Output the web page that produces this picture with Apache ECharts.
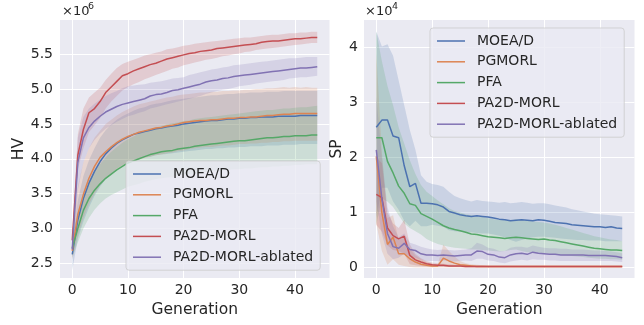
<!DOCTYPE html>
<html>
<head>
<meta charset="utf-8">
<script src="https://cdn.jsdelivr.net/npm/echarts@6/dist/echarts.min.js"></script>
<style>
  html, body { margin: 0; padding: 0; background: #ffffff; }
  #chart { width: 644px; height: 325px; }
</style>
</head>
<body>
<div id="chart"></div>
<script>
const generations = [0,1,2,3,4,5,6,7,8,9,10,11,12,13,14,15,16,17,18,19,20,21,22,23,24,25,26,27,28,29,30,31,32,33,34,35,36,37,38,39,40,41,42,43,44];
const methods = ['MOEA/D', 'PGMORL', 'PFA', 'PA2D-MORL', 'PA2D-MORL-ablated'];
const colors = ['#4C72B0', '#DD8452', '#55A868', '#C44E52', '#8172B3'];
const genTicks = [0, 10, 20, 30, 40];
const hvTicks = [2.5, 3.0, 3.5, 4.0, 4.5, 5.0, 5.5];
const spTicks = [0, 1, 2, 3, 4];

// HV (x1e6): mean and band edges per generation
const hvBlueMean = [2.63,3.12,3.43,3.65,3.82,3.96,4.07,4.15,4.22,4.27,4.31,4.35,4.37,4.39,4.41,
  4.43,4.44,4.46,4.47,4.48,4.50,4.51,4.52,4.53,4.54,4.55,4.55,4.56,4.57,4.57,
  4.58,4.58,4.59,4.59,4.60,4.60,4.60,4.61,4.61,4.61,4.61,4.62,4.62,4.62,4.62];
const hvBlueLo = [2.40,2.85,3.10,3.30,3.47,3.60,3.71,3.79,3.86,3.91,3.95,3.98,4.00,4.02,4.03,
  4.05,4.06,4.07,4.08,4.09,4.10,4.11,4.12,4.13,4.14,4.14,4.15,4.15,4.16,4.16,
  4.17,4.17,4.18,4.18,4.18,4.19,4.19,4.19,4.20,4.20,4.20,4.21,4.21,4.21,4.21];
const hvBlueHi = [2.80,3.40,3.75,3.98,4.15,4.30,4.41,4.49,4.56,4.61,4.65,4.69,4.72,4.74,4.77,
  4.79,4.80,4.82,4.84,4.85,4.86,4.87,4.88,4.89,4.90,4.91,4.91,4.92,4.93,4.93,
  4.94,4.94,4.95,4.95,4.95,4.96,4.96,4.96,4.97,4.97,4.97,4.97,4.97,4.97,4.97];

const hvOrangeMean = [2.68,3.20,3.49,3.72,3.89,4.02,4.10,4.17,4.23,4.28,4.32,4.35,4.38,4.40,4.42,
  4.44,4.45,4.47,4.48,4.50,4.52,4.53,4.54,4.55,4.55,4.56,4.56,4.57,4.58,4.58,
  4.59,4.59,4.60,4.60,4.61,4.62,4.62,4.63,4.64,4.64,4.65,4.65,4.65,4.65,4.65];
const hvOrangeLo = [2.55,2.90,3.15,3.35,3.50,3.62,3.72,3.79,3.85,3.90,3.93,3.96,3.99,4.01,4.03,
  4.05,4.06,4.08,4.09,4.11,4.12,4.14,4.15,4.16,4.17,4.17,4.18,4.19,4.19,4.20,
  4.21,4.21,4.22,4.22,4.23,4.23,4.24,4.24,4.25,4.25,4.26,4.26,4.26,4.26,4.26];
const hvOrangeHi = [2.90,3.60,3.95,4.15,4.30,4.40,4.50,4.56,4.62,4.67,4.71,4.75,4.78,4.80,4.82,
  4.84,4.86,4.88,4.89,4.91,4.92,4.93,4.94,4.95,4.95,4.96,4.96,4.97,4.97,4.98,
  4.98,4.99,4.99,5.00,5.00,5.01,5.01,5.02,5.03,5.02,5.03,5.02,5.03,5.02,5.02];

const hvGreenMean = [2.72,3.00,3.26,3.43,3.55,3.64,3.72,3.78,3.84,3.89,3.94,3.97,4.00,4.03,4.06,
  4.08,4.10,4.11,4.12,4.14,4.15,4.16,4.18,4.19,4.20,4.21,4.22,4.23,4.24,4.25,
  4.26,4.26,4.27,4.28,4.29,4.30,4.30,4.31,4.32,4.32,4.33,4.33,4.33,4.34,4.34];
const hvGreenLo = [2.58,2.80,3.00,3.15,3.27,3.36,3.43,3.48,3.52,3.56,3.60,3.62,3.64,3.67,3.69,
  3.71,3.72,3.73,3.74,3.76,3.77,3.78,3.79,3.80,3.81,3.82,3.82,3.83,3.84,3.85,
  3.85,3.86,3.86,3.87,3.88,3.88,3.89,3.89,3.90,3.90,3.91,3.91,3.92,3.92,3.92];
const hvGreenHi = [2.90,3.22,3.48,3.68,3.82,3.92,4.02,4.10,4.17,4.23,4.28,4.32,4.36,4.39,4.42,
  4.45,4.47,4.49,4.51,4.52,4.54,4.55,4.57,4.58,4.59,4.60,4.61,4.62,4.63,4.64,
  4.65,4.66,4.67,4.68,4.69,4.70,4.70,4.71,4.72,4.72,4.73,4.74,4.74,4.75,4.76];

const hvRedMean = [2.83,4.05,4.42,4.66,4.72,4.82,4.95,5.03,5.11,5.19,5.22,5.26,5.29,5.32,5.35,
  5.37,5.40,5.43,5.45,5.47,5.49,5.51,5.52,5.54,5.55,5.56,5.58,5.59,5.60,5.61,
  5.62,5.63,5.64,5.65,5.67,5.68,5.69,5.69,5.70,5.71,5.72,5.72,5.73,5.74,5.74];
const hvRedLo = [2.75,3.85,4.15,4.38,4.48,4.58,4.72,4.82,4.90,4.98,5.03,5.07,5.10,5.14,5.17,
  5.20,5.23,5.26,5.29,5.31,5.34,5.36,5.38,5.40,5.42,5.43,5.45,5.47,5.48,5.50,
  5.51,5.53,5.54,5.56,5.57,5.58,5.59,5.60,5.61,5.62,5.63,5.64,5.65,5.66,5.66];
const hvRedHi = [2.92,4.35,4.72,4.88,4.95,5.02,5.13,5.22,5.30,5.36,5.39,5.42,5.45,5.48,5.50,
  5.52,5.54,5.57,5.58,5.60,5.62,5.63,5.65,5.66,5.67,5.68,5.69,5.70,5.71,5.72,
  5.73,5.74,5.74,5.75,5.76,5.77,5.78,5.78,5.79,5.80,5.80,5.81,5.81,5.82,5.82];

const hvPurpleMean = [2.70,3.95,4.30,4.45,4.54,4.61,4.67,4.71,4.75,4.78,4.80,4.82,4.84,4.86,4.90,
  4.92,4.93,4.95,4.98,4.99,5.01,5.03,5.05,5.07,5.10,5.12,5.13,5.15,5.16,5.18,
  5.19,5.20,5.21,5.22,5.23,5.24,5.25,5.26,5.27,5.28,5.29,5.30,5.30,5.31,5.32];
const hvPurpleLo = [2.55,3.55,3.95,4.15,4.27,4.36,4.43,4.48,4.53,4.57,4.61,4.63,4.66,4.68,4.72,
  4.74,4.76,4.78,4.80,4.82,4.84,4.86,4.88,4.90,4.93,4.95,4.97,4.99,5.00,5.02,
  5.04,5.05,5.06,5.08,5.09,5.10,5.11,5.12,5.13,5.15,5.16,5.17,5.17,5.18,5.19];
const hvPurpleHi = [2.85,4.30,4.60,4.72,4.79,4.85,4.90,4.94,4.97,5.01,5.04,5.05,5.06,5.07,5.09,
  5.10,5.11,5.13,5.15,5.16,5.17,5.20,5.22,5.24,5.26,5.28,5.29,5.31,5.32,5.34,
  5.35,5.36,5.37,5.38,5.39,5.40,5.41,5.42,5.43,5.44,5.44,5.45,5.46,5.46,5.46];

// SP (x1e4)
const spBlueMean = [2.55,2.68,2.68,2.39,2.36,1.85,1.47,1.53,1.17,1.17,1.16,1.14,1.10,1.02,0.99,
  0.96,0.94,0.93,0.94,0.93,0.92,0.90,0.88,0.87,0.85,0.86,0.87,0.86,0.85,0.87,
  0.86,0.84,0.82,0.81,0.80,0.78,0.77,0.76,0.75,0.74,0.74,0.73,0.74,0.72,0.71];
const spBlueLo = [0.90,1.45,1.45,1.20,1.05,0.85,0.75,0.85,0.75,0.75,0.78,0.76,0.74,0.68,0.66,
  0.65,0.64,0.64,0.63,0.62,0.62,0.60,0.58,0.55,0.50,0.47,0.50,0.53,0.55,0.56,
  0.56,0.55,0.54,0.53,0.52,0.51,0.50,0.50,0.49,0.49,0.49,0.48,0.48,0.48,0.48];
const spBlueHi = [4.29,4.02,4.06,3.85,3.40,2.95,2.50,2.14,1.68,1.56,1.52,1.50,1.47,1.38,1.30,
  1.26,1.23,1.20,1.23,1.21,1.20,1.19,1.18,1.19,1.17,1.18,1.19,1.18,1.16,1.17,
  1.17,1.15,1.13,1.11,1.09,1.06,1.04,1.02,1.00,0.98,0.97,0.96,0.95,0.94,0.93];

const spOrangeMean = [2.02,1.00,0.42,0.55,0.25,0.25,0.16,0.10,0.06,0.04,0.03,0.03,0.17,0.12,0.08,
  0.05,0.04,0.03,0.02,0.02,0.02,0.02,0.02,0.02,0.02,0.02,0.02,0.02,0.02,0.02,
  0.02,0.02,0.02,0.02,0.02,0.02,0.02,0.02,0.02,0.02,0.02,0.02,0.02,0.02,0.02];
const spOrangeLo = [0.80,0.30,0.05,0.15,0.05,0.03,0.01,0.00,0.00,0.00,0.00,0.00,0.00,0.00,0.00,
  0.00,0.00,0.00,0.00,0.00,0.00,0.00,0.00,0.00,0.00,0.00,0.00,0.00,0.00,0.00,
  0.00,0.00,0.00,0.00,0.00,0.00,0.00,0.00,0.00,0.00,0.00,0.00,0.00,0.00,0.00];
const spOrangeHi = [3.90,2.10,0.90,0.95,0.50,0.55,0.35,0.22,0.15,0.10,0.07,0.06,0.42,0.30,0.20,
  0.12,0.08,0.06,0.05,0.04,0.04,0.04,0.04,0.04,0.04,0.04,0.04,0.04,0.04,0.04,
  0.04,0.04,0.04,0.04,0.04,0.04,0.04,0.04,0.04,0.04,0.04,0.04,0.04,0.04,0.04];

const spGreenMean = [2.36,2.36,1.93,1.72,1.48,1.35,1.16,1.13,0.98,0.93,0.88,0.82,0.76,0.72,0.69,
  0.67,0.64,0.61,0.60,0.58,0.56,0.55,0.54,0.53,0.54,0.55,0.54,0.53,0.52,0.51,
  0.52,0.50,0.49,0.47,0.45,0.43,0.41,0.39,0.37,0.35,0.34,0.33,0.32,0.32,0.31];
const spGreenLo = [0.78,1.25,1.20,1.10,0.95,0.80,0.72,0.66,0.60,0.52,0.47,0.43,0.40,0.38,0.36,
  0.35,0.34,0.33,0.33,0.32,0.31,0.30,0.29,0.30,0.32,0.33,0.30,0.28,0.28,0.27,
  0.26,0.25,0.24,0.23,0.22,0.21,0.20,0.19,0.18,0.17,0.16,0.16,0.15,0.15,0.14];
const spGreenHi = [4.29,3.75,3.30,2.95,2.55,2.25,1.95,1.70,1.50,1.38,1.30,1.22,1.15,1.08,1.03,
  1.00,0.97,0.95,0.93,0.92,0.90,0.88,0.87,0.86,0.86,0.88,0.87,0.85,0.84,0.83,
  0.82,0.80,0.78,0.75,0.72,0.69,0.66,0.63,0.60,0.57,0.55,0.53,0.51,0.50,0.48];

const spRedMean = [1.33,1.27,0.72,0.58,0.52,0.57,0.22,0.14,0.10,0.07,0.05,0.04,0.04,0.03,0.03,
  0.03,0.02,0.02,0.02,0.02,0.02,0.02,0.02,0.02,0.02,0.02,0.02,0.02,0.02,0.02,
  0.02,0.02,0.02,0.02,0.02,0.02,0.02,0.02,0.02,0.02,0.02,0.02,0.02,0.02,0.02];
const spRedLo = [0.78,0.65,0.40,0.32,0.30,0.25,0.06,0.04,0.03,0.02,0.01,0.01,0.01,0.01,0.01,
  0.01,0.00,0.00,0.00,0.00,0.00,0.00,0.00,0.00,0.00,0.00,0.00,0.00,0.00,0.00,
  0.00,0.00,0.00,0.00,0.00,0.00,0.00,0.00,0.00,0.00,0.00,0.00,0.00,0.00,0.00];
const spRedHi = [2.00,1.90,1.00,0.80,0.72,0.87,0.42,0.25,0.17,0.12,0.09,0.08,0.07,0.06,0.05,
  0.05,0.04,0.04,0.04,0.04,0.03,0.03,0.03,0.03,0.03,0.03,0.03,0.03,0.03,0.03,
  0.03,0.03,0.03,0.03,0.03,0.03,0.03,0.03,0.03,0.03,0.03,0.03,0.03,0.03,0.03];

const spPurpleMean = [2.14,1.25,0.62,0.38,0.35,0.44,0.33,0.31,0.25,0.23,0.23,0.22,0.23,0.22,0.21,
  0.22,0.23,0.23,0.30,0.29,0.24,0.23,0.19,0.18,0.23,0.25,0.26,0.24,0.28,0.26,
  0.25,0.24,0.24,0.23,0.23,0.23,0.23,0.23,0.22,0.22,0.22,0.22,0.21,0.20,0.18];
const spPurpleLo = [1.20,0.60,0.25,0.15,0.18,0.25,0.20,0.18,0.14,0.12,0.12,0.12,0.13,0.12,0.11,
  0.12,0.13,0.12,0.16,0.16,0.13,0.12,0.09,0.08,0.11,0.13,0.14,0.13,0.15,0.14,
  0.14,0.13,0.13,0.12,0.12,0.12,0.12,0.12,0.12,0.12,0.12,0.12,0.12,0.11,0.10];
const spPurpleHi = [3.10,2.00,1.10,0.75,0.55,0.62,0.45,0.42,0.38,0.35,0.33,0.32,0.33,0.32,0.31,
  0.32,0.33,0.35,0.45,0.42,0.36,0.34,0.30,0.30,0.36,0.38,0.38,0.36,0.40,0.38,
  0.36,0.35,0.35,0.34,0.34,0.33,0.33,0.33,0.32,0.31,0.31,0.30,0.29,0.28,0.26];

const hvMeans = [hvBlueMean, hvOrangeMean, hvGreenMean, hvRedMean, hvPurpleMean];
const hvLos = [hvBlueLo, hvOrangeLo, hvGreenLo, hvRedLo, hvPurpleLo];
const hvHis = [hvBlueHi, hvOrangeHi, hvGreenHi, hvRedHi, hvPurpleHi];
const spMeans = [spBlueMean, spOrangeMean, spGreenMean, spRedMean, spPurpleMean];
const spLos = [spBlueLo, spOrangeLo, spGreenLo, spRedLo, spPurpleLo];
const spHis = [spBlueHi, spOrangeHi, spGreenHi, spRedHi, spPurpleHi];

const FONT = 'DejaVu Sans';
const INK = '#262626';

function pairs(vals) {
  return vals.map((v, i) => [generations[i], v]);
}

function addSeries(list, idx, means, los, his) {
  methods.forEach((name, k) => {
    list.push({
      name, type: 'line', xAxisIndex: idx, yAxisIndex: idx,
      data: pairs(means[k]), symbol: 'none', animation: false,
      lineStyle: { color: colors[k], width: 1.5 }, itemStyle: { color: colors[k] },
    });
    // shaded band between lo and hi, drawn once as one polygon
    const lo = los[k], hi = his[k];
    list.push({
      name: name + ' band', type: 'custom', xAxisIndex: idx, yAxisIndex: idx,
      data: generations.map((g, i) => [g, lo[i], hi[i]]),
      encode: { x: 0, y: [1, 2] },
      silent: true, animation: false,
      renderItem: (params, api) => {
        if (params.dataIndex !== 0) return null;
        const pts = [];
        generations.forEach((g, i) => pts.push(api.coord([g, hi[i]])));
        for (let i = generations.length - 1; i >= 0; i--) pts.push(api.coord([generations[i], lo[i]]));
        return { type: 'polygon', shape: { points: pts }, style: { fill: colors[k], opacity: 0.2 } };
      },
    });
  });
}

const series = [];
addSeries(series, 0, hvMeans, hvLos, hvHis);
addSeries(series, 1, spMeans, spLos, spHis);

function xAxis(idx) {
  return {
    type: 'value', gridIndex: idx, min: -2.2, max: 46.2,
    name: 'Generation', nameLocation: 'middle', nameGap: 22,
    nameTextStyle: { color: INK, fontSize: 15.5, fontFamily: FONT },
    axisLine: { show: false },
    axisTick: { show: false, customValues: genTicks },
    axisLabel: { customValues: genTicks, color: INK, fontSize: 14, fontFamily: FONT, margin: 5 },
    splitLine: { show: true, lineStyle: { color: '#ffffff', width: 1 } },
  };
}

function legend(left, top) {
  return {
    orient: 'vertical', left, top,
    data: methods, selectedMode: false,
    icon: 'path://M0,0H28V1.5H0Z', itemWidth: 28, itemHeight: 14, itemGap: 6.8,
    padding: [6, 7, 6, 7],
    backgroundColor: 'rgba(234,234,242,0.8)',
    borderColor: 'rgba(204,204,204,0.8)', borderWidth: 1, borderRadius: 3,
    textStyle: { color: INK, fontSize: 14, fontFamily: FONT, lineHeight: 14, padding: [0, 0, 0, 7] },
  };
}

const chart = echarts.init(document.getElementById('chart'), null, { renderer: 'canvas' });
chart.setOption({
  animation: false,
  backgroundColor: '#ffffff',
  textStyle: { fontFamily: FONT },
  grid: [
    { left: 60, top: 20, width: 269.5, height: 258, show: true, backgroundColor: '#EAEAF2', borderWidth: 0 },
    { left: 364, top: 20, width: 270.5, height: 258, show: true, backgroundColor: '#EAEAF2', borderWidth: 0 },
  ],
  xAxis: [xAxis(0), xAxis(1)],
  yAxis: [
    {
      type: 'value', gridIndex: 0, min: 2.29, max: 5.99,
      name: 'HV', nameLocation: 'middle', nameGap: 27, nameRotate: 90,
      nameTextStyle: { color: INK, fontSize: 15.5, fontFamily: FONT },
      axisLine: { show: false },
      axisTick: { show: false, customValues: hvTicks },
      axisLabel: { customValues: hvTicks, color: INK, fontSize: 14, fontFamily: FONT, margin: 7,
        formatter: v => v.toFixed(1) },
      splitLine: { show: true, lineStyle: { color: '#ffffff', width: 1 } },
    },
    {
      type: 'value', gridIndex: 1, min: -0.19, max: 4.5,
      name: 'SP', nameLocation: 'middle', nameGap: 19, nameRotate: 90,
      nameTextStyle: { color: INK, fontSize: 15.5, fontFamily: FONT },
      axisLine: { show: false },
      axisTick: { show: false, customValues: spTicks },
      axisLabel: { customValues: spTicks, color: INK, fontSize: 14, fontFamily: FONT, margin: 6,
        formatter: v => String(Math.round(v)) },
      splitLine: { show: true, lineStyle: { color: '#ffffff', width: 1 } },
    },
  ],
  legend: [legend(126, 161), legend(430, 28)],
  graphic: [
    { type: 'text', left: 62, top: 5, style: { text: '×10', fontSize: 13, fontFamily: FONT, fill: INK } },
    { type: 'text', left: 88, top: 2, style: { text: '6', fontSize: 9.5, fontFamily: FONT, fill: INK } },
    { type: 'text', left: 365, top: 5, style: { text: '×10', fontSize: 13, fontFamily: FONT, fill: INK } },
    { type: 'text', left: 392, top: 2, style: { text: '4', fontSize: 9.5, fontFamily: FONT, fill: INK } },
  ],
  series,
});
</script>
</body>
</html>
